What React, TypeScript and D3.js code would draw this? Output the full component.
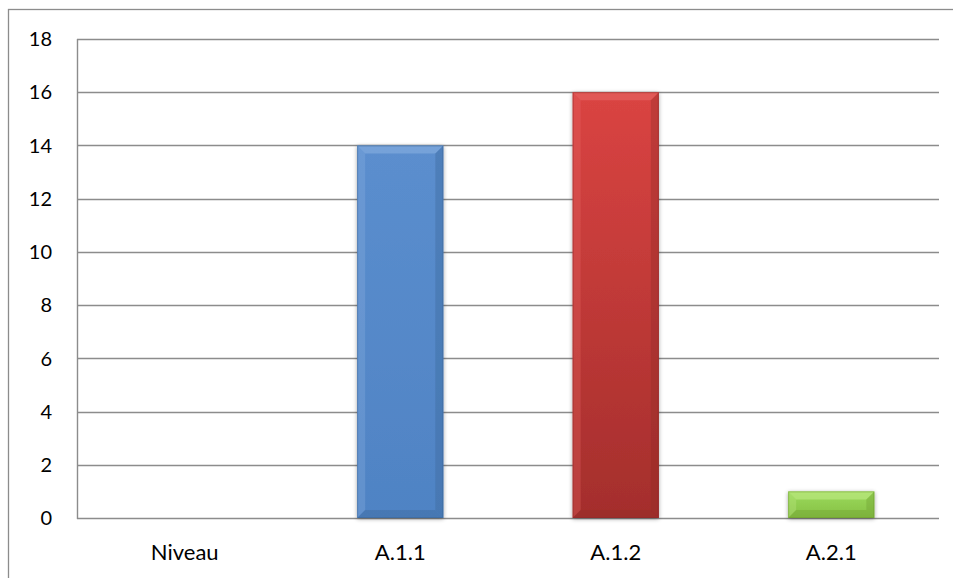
import React from "react";
import * as d3 from "d3";

const categories = ["Niveau", "A.1.1", "A.1.2", "A.2.1"];
const values = [0, 14, 16, 1];
const yTicks = [0, 2, 4, 6, 8, 10, 12, 14, 16, 18];
const barColors = [
  { light: "#8DB3E2", dark: "#3A6396" },
  { light: "#E86A67", dark: "#8E2A28" },
  { light: "#C4EC8A", dark: "#6E9A2E" },
];
const colorIndex = [0, 0, 1, 2];

const W = 953;
const H = 578;
const plot = { left: 77, right: 939, top: 39, bottom: 518 };

export default function App() {
  const x = d3
    .scaleBand<string>()
    .domain(categories)
    .range([plot.left, plot.right])
    .paddingInner(0.6)
    .paddingOuter(0.3);
  const y = d3.scaleLinear().domain([0, 18]).range([plot.bottom, plot.top]);
  const font = "Lato, 'Open Sans', 'Liberation Sans', sans-serif";
  const bv = 8;

  return (
    <svg
      width={W}
      height={H}
      style={{ position: "absolute", left: 0, top: 0, display: "block" }}
    >
      <defs>
        <linearGradient id="redv" x1="0" y1="0" x2="0" y2="1">
          <stop offset="0" stopColor="#DA4442" />
          <stop offset="1" stopColor="#A42E2C" />
        </linearGradient>
        <linearGradient id="bluev" x1="0" y1="0" x2="0" y2="1">
          <stop offset="0" stopColor="#5B8ECE" />
          <stop offset="1" stopColor="#4F83C4" />
        </linearGradient>
        <linearGradient id="greenv" x1="0" y1="0" x2="0" y2="1">
          <stop offset="0" stopColor="#9BDA5A" />
          <stop offset="1" stopColor="#86C046" />
        </linearGradient>
        <filter id="shadow" x="-20%" y="-20%" width="140%" height="140%">
          <feGaussianBlur in="SourceAlpha" stdDeviation="2" />
          <feOffset dx="0" dy="1" result="b" />
          <feComponentTransfer>
            <feFuncA type="linear" slope="0.35" />
          </feComponentTransfer>
          <feMerge>
            <feMergeNode />
            <feMergeNode in="SourceGraphic" />
          </feMerge>
        </filter>
      </defs>
      <rect x={0} y={0} width={W} height={H} fill="#fff" />
      <rect
        x={8.5}
        y={9.5}
        width={W + 20}
        height={H + 20}
        fill="none"
        stroke="#8C8C8C"
        strokeWidth={1.3}
      />
      {yTicks.map((t) => (
        <line
          key={t}
          x1={plot.left}
          x2={plot.right}
          y1={Math.round(y(t)) + 0.5}
          y2={Math.round(y(t)) + 0.5}
          stroke="#8C8C8C"
          strokeWidth={1.4}
        />
      ))}
      <line
        x1={plot.left + 0.5}
        x2={plot.left + 0.5}
        y1={plot.top}
        y2={plot.bottom + 1}
        stroke="#8C8C8C"
        strokeWidth={1.4}
      />
      {yTicks.map((t) => (
        <text
          key={t}
          x={52}
          y={y(t)}
          dy="0.36em"
          textAnchor="end"
          fontFamily={font}
          fontSize={20}
          fill="#000"
        >
          {t}
        </text>
      ))}
      {values.map((v, i) => {
        if (v <= 0) return null;
        const x0 = x(categories[i])!;
        const w = x.bandwidth();
        const y0 = y(v);
        const y1 = y(0);
        const h = y1 - y0;
        const b = Math.min(bv, h / 3);
        const c = barColors[colorIndex[i]];
        const fillId = i === 1 ? "bluev" : i === 2 ? "redv" : "greenv";
        return (
          <g key={i} filter="url(#shadow)">
            <rect x={x0} y={y0} width={w} height={h} fill={`url(#${fillId})`} />
            <polygon
              points={`${x0},${y0} ${x0 + w},${y0} ${x0 + w - b},${y0 + b} ${x0 + b},${y0 + b}`}
              fill={c.light}
              opacity={0.55}
            />
            <polygon
              points={`${x0},${y0} ${x0 + b},${y0 + b} ${x0 + b},${y1 - b} ${x0},${y1}`}
              fill={c.light}
              opacity={0.3}
            />
            <polygon
              points={`${x0 + w},${y0} ${x0 + w - b},${y0 + b} ${x0 + w - b},${y1 - b} ${x0 + w},${y1}`}
              fill={c.dark}
              opacity={0.35}
            />
            <polygon
              points={`${x0},${y1} ${x0 + b},${y1 - b} ${x0 + w - b},${y1 - b} ${x0 + w},${y1}`}
              fill={c.dark}
              opacity={0.35}
            />
            <rect
              x={x0 + 0.5}
              y={y0 + 0.5}
              width={w - 1}
              height={h - 1}
              fill="none"
              stroke={c.dark}
              strokeOpacity={0.5}
              strokeWidth={1}
            />
          </g>
        );
      })}
      {categories.map((cat) => (
        <text
          key={cat}
          x={x(cat)! + x.bandwidth() / 2}
          y={552}
          dy="0.36em"
          textAnchor="middle"
          fontFamily={font}
          fontSize={22}
          fill="#000"
        >
          {cat}
        </text>
      ))}
    </svg>
  );
}
